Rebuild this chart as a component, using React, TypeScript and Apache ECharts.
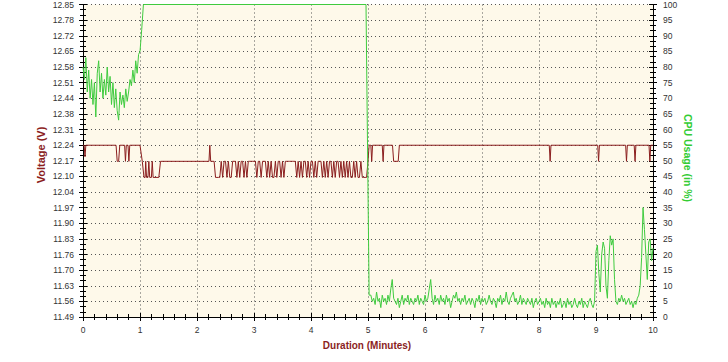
import React, { useEffect, useRef } from 'react';
import * as echarts from 'echarts';

// ---------- Axis definitions ----------
const VOLT_BASE = 11.4925; // bottom of the voltage axis (label "11.49")
const VOLT_SPAN = 1.36; // up to ~12.85
const VOLT_STEP = 0.068; // 20 intervals
const CPU_MIN = 0;
const CPU_MAX = 100;
const CPU_STEP = 5;
const TIME_MIN = 0;
const TIME_MAX = 10;
const TIME_STEP = 1;
const SAMPLE_STEP = 0.025; // minutes between samples in the sampled runs

// ---------- Voltage (V) ----------
const voltageStart: [number, number][] = [
  [0, 12.24], [0.02, 12.24], [0.035, 12.19], [0.05, 12.24],
  [0.58, 12.24], [0.6, 12.17], [0.625, 12.17], [0.645, 12.24],
  [0.73, 12.24], [0.745, 12.17], [0.76, 12.24],
  [0.79, 12.24], [0.805, 12.17], [0.82, 12.24],
  [1.0, 12.24], [1.04, 12.17], [1.07, 12.10], [1.09, 12.10], [1.1, 12.17],
  [1.115, 12.10], [1.14, 12.10], [1.155, 12.17], [1.17, 12.10], [1.2, 12.10],
  [1.215, 12.17], [1.23, 12.10], [1.33, 12.10], [1.36, 12.17],
  [2.21, 12.17], [2.225, 12.24], [2.24, 12.17], [2.3, 12.17], [2.325, 12.10],
];
const voltageSwingStart = 2.35;
const voltageSwing: number[] = [
  12.10, 12.10, 12.10, 12.17, 12.10, 12.17, 12.17, 12.10, 12.17, 12.10,
  12.10, 12.17, 12.17, 12.17, 12.10, 12.17, 12.10, 12.17, 12.17, 12.10,
  12.17, 12.10, 12.17, 12.17, 12.17, 12.17, 12.17, 12.17, 12.10, 12.17,
  12.17, 12.10, 12.17, 12.17, 12.17, 12.10, 12.17, 12.10, 12.17, 12.10,
  12.10, 12.17, 12.10, 12.17, 12.17, 12.10, 12.17, 12.10, 12.17, 12.17,
  12.17, 12.17, 12.17, 12.17, 12.17, 12.17, 12.10, 12.17, 12.10, 12.17,
  12.10, 12.17, 12.17, 12.10, 12.17, 12.10, 12.17, 12.17, 12.10, 12.17,
  12.10, 12.17, 12.17, 12.17, 12.10, 12.17, 12.10, 12.17, 12.10, 12.17,
  12.17, 12.10, 12.17, 12.10, 12.17, 12.17, 12.10, 12.17, 12.10, 12.17,
  12.10, 12.17, 12.10, 12.17, 12.10, 12.10, 12.17, 12.10, 12.17, 12.10,
  12.10, 12.17, 12.10, 12.10, 12.10,
];
const voltageEnd: [number, number][] = [
  [4.975, 12.10], [5.0, 12.17], [5.02, 12.24], [5.05, 12.24], [5.065, 12.17],
  [5.08, 12.24], [5.25, 12.24], [5.265, 12.17], [5.28, 12.24], [5.43, 12.24],
  [5.45, 12.17], [5.53, 12.17], [5.55, 12.24], [8.18, 12.24], [8.195, 12.17],
  [8.21, 12.24], [9.03, 12.24], [9.045, 12.17], [9.06, 12.24], [9.52, 12.24],
  [9.535, 12.17], [9.55, 12.24], [9.67, 12.24], [9.685, 12.17], [9.7, 12.24],
  [9.93, 12.24], [9.945, 12.17], [9.96, 12.24], [10, 12.24],
];

// ---------- CPU usage (%) ----------
const cpuStart: number[] = [
  80, 76, 83, 72, 79, 70, 76, 68, 75, 64,
  78, 82, 72, 78, 70, 76, 71, 80, 72, 77,
  68, 75, 67, 73, 66, 63, 72, 68, 71, 67,
  73, 69, 72, 76, 74, 79, 75, 82, 78, 84,
];
const cpuPlateau: [number, number][] = [
  [1.0, 85], [1.03, 92], [1.06, 100], [4.965, 100], [5.02, 7],
];
const cpuIdleStart = 5.05;
const cpuIdle: number[] = [
  7, 5, 6, 4, 8, 5, 6, 3, 7, 5,
  6, 4, 7, 5, 9, 12, 6, 5, 4, 6,
  3, 5, 7, 4, 6, 5, 7, 4, 6, 5,
  4, 6, 5, 7, 4, 6, 5, 4, 7, 5,
  6, 9, 12, 6, 4, 7, 5, 6, 4, 7,
  5, 6, 4, 7, 5, 6, 3, 5, 7, 6,
  8, 5, 6, 4, 6, 5, 7, 4, 5, 6,
  4, 6, 5, 3, 6, 5, 7, 4, 6, 5,
  6, 4, 5, 7, 5, 4, 6, 5, 3, 6,
  5, 7, 4, 6, 5, 8, 5, 4, 6, 7,
  8, 5, 6, 4, 5, 7, 4, 6, 5, 4,
  6, 5, 4, 6, 3, 5, 6, 4, 5, 6,
  4, 5, 3, 6, 4, 5, 3, 6, 4, 5,
  3, 5, 4, 6, 3, 4, 5, 3, 6, 4,
  5, 3, 4, 6, 4, 3, 5, 4, 6, 3,
  5, 4, 3, 5, 6, 4, 3, 5,
];
const cpuBurstStart = 9.0;
const cpuBurst: number[] = [
  21, 23, 14, 8, 20, 24, 22, 10, 6, 18,
  26, 23, 25, 12, 5, 4, 6, 5, 7, 5,
  6, 4, 5, 6, 4, 5, 3, 5, 4, 6,
  7, 10, 19, 35, 28, 20, 12, 24, 25, 18,
  22,
];

// ---------- Build series data ----------
const sampled = (start: number, values: number[]): [number, number][] =>
  values.map((v, i) => [+(start + i * SAMPLE_STEP).toFixed(4), v]);

const voltagePoints: [number, number][] = [
  ...voltageStart,
  ...sampled(voltageSwingStart, voltageSwing),
  ...voltageEnd,
];
const voltageData = voltagePoints.map(([t, v]) => [t, +(v - VOLT_BASE).toFixed(4)]);

const cpuData: [number, number][] = [
  ...sampled(0, cpuStart),
  ...cpuPlateau,
  ...sampled(cpuIdleStart, cpuIdle),
  ...sampled(cpuBurstStart, cpuBurst),
];

const FONT = '"Liberation Sans", Arial, sans-serif';
const LABEL_COLOR = '#333';
const RED = '#8B1E1E';
const GREEN = '#3FCB3F';

const tickLine = { color: '#000', width: 1 };
const dotted = { color: '#555', width: 1, type: [1, 3] as number[] };

const option: echarts.EChartsOption = {
  animation: false,
  backgroundColor: '#ffffff',
  grid: {
    left: 83,
    right: 75,
    top: 3,
    bottom: 45,
    show: true,
    backgroundColor: '#FEF9EA',
    borderWidth: 0,
  },
  xAxis: [
    {
      type: 'value',
      min: TIME_MIN,
      max: TIME_MAX,
      interval: TIME_STEP,
      position: 'bottom',
      axisLine: { show: true, onZero: false, lineStyle: tickLine },
      axisTick: { show: true, length: 4, lineStyle: tickLine },
      minorTick: { show: true, splitNumber: 5, length: 3, lineStyle: tickLine },
      axisLabel: { fontSize: 8.5, color: LABEL_COLOR, fontFamily: FONT, margin: 8 },
      splitLine: { show: true, lineStyle: dotted },
    },
    {
      type: 'value',
      min: TIME_MIN,
      max: TIME_MAX,
      interval: TIME_STEP,
      position: 'bottom',
      axisLine: { show: false, onZero: false },
      axisTick: { show: true, inside: true, length: 4, lineStyle: tickLine },
      minorTick: { show: true, splitNumber: 5, length: 3, lineStyle: tickLine },
      axisLabel: { show: false, inside: true },
      splitLine: { show: false },
    },
  ],
  yAxis: [
    {
      type: 'value',
      min: 0,
      max: VOLT_SPAN,
      interval: VOLT_STEP,
      position: 'left',
      axisLine: { show: true, onZero: false, lineStyle: tickLine },
      axisTick: { show: true, length: 4, lineStyle: tickLine },
      minorTick: { show: true, splitNumber: 3, length: 3, lineStyle: tickLine },
      axisLabel: {
        fontSize: 8.5,
        color: LABEL_COLOR,
        fontFamily: FONT,
        margin: 9,
        formatter: (v: number) => (v + VOLT_BASE).toFixed(2),
      },
      splitLine: { show: true, lineStyle: dotted },
    },
    {
      type: 'value',
      min: CPU_MIN,
      max: CPU_MAX,
      interval: CPU_STEP,
      position: 'right',
      axisLine: { show: true, onZero: false, lineStyle: tickLine },
      axisTick: { show: true, length: 4, lineStyle: tickLine },
      minorTick: { show: true, splitNumber: 3, length: 3, lineStyle: tickLine },
      axisLabel: { fontSize: 8.5, color: LABEL_COLOR, fontFamily: FONT, margin: 10 },
      splitLine: { show: false },
    },
    {
      type: 'value',
      min: 0,
      max: VOLT_SPAN,
      interval: VOLT_STEP,
      position: 'left',
      axisLine: { show: false, onZero: false },
      axisTick: { show: true, inside: true, length: 4, lineStyle: tickLine },
      minorTick: { show: true, splitNumber: 3, length: 3, lineStyle: tickLine },
      axisLabel: { show: false },
      splitLine: { show: false },
    },
    {
      type: 'value',
      min: CPU_MIN,
      max: CPU_MAX,
      interval: CPU_STEP,
      position: 'right',
      axisLine: { show: false, onZero: false },
      axisTick: { show: true, inside: true, length: 4, lineStyle: tickLine },
      minorTick: { show: true, splitNumber: 3, length: 3, lineStyle: tickLine },
      axisLabel: { show: false },
      splitLine: { show: false },
    },
  ],
  series: [
    {
      name: 'Voltage (V)',
      type: 'line',
      xAxisIndex: 0,
      yAxisIndex: 0,
      data: voltageData,
      showSymbol: false,
      symbol: 'none',
      lineStyle: { color: RED, width: 1 },
      itemStyle: { color: RED },
      z: 2,
    },
    {
      name: 'CPU Usage (in %)',
      type: 'line',
      xAxisIndex: 0,
      yAxisIndex: 1,
      data: cpuData,
      showSymbol: false,
      symbol: 'none',
      lineStyle: { color: GREEN, width: 1 },
      itemStyle: { color: GREEN },
      z: 3,
    },
  ],
  graphic: [
    {
      type: 'text',
      x: 41,
      y: 155,
      rotation: Math.PI / 2,
      style: {
        text: 'Voltage (V)',
        fill: RED,
        font: `bold 11px ${FONT}`,
        align: 'center',
        verticalAlign: 'middle',
      },
    },
    {
      type: 'text',
      x: 688,
      y: 158,
      rotation: -Math.PI / 2,
      style: {
        text: 'CPU Usage (in %)',
        fill: '#33CC33',
        font: `bold 10.5px ${FONT}`,
        align: 'center',
        verticalAlign: 'middle',
      },
    },
    {
      type: 'text',
      x: 367,
      y: 345,
      style: {
        text: 'Duration (Minutes)',
        fill: RED,
        font: `bold 10px ${FONT}`,
        align: 'center',
        verticalAlign: 'middle',
      },
    },
  ],
};

export default function App() {
  const ref = useRef<HTMLDivElement>(null);
  useEffect(() => {
    if (!ref.current) return;
    const chart = echarts.init(ref.current, null, { renderer: 'svg' });
    chart.setOption(option);
    return () => chart.dispose();
  }, []);
  return (
    <div
      ref={ref}
      style={{ position: 'fixed', left: 0, top: 0, width: 728, height: 362, background: '#fff' }}
    />
  );
}
